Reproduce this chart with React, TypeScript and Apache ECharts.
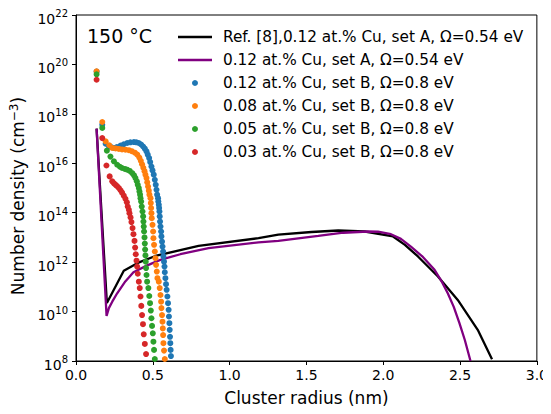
import React, { useEffect, useRef } from "react";
import * as echarts from "echarts";

// Series names (legend)
const names = [
  "Ref. [8],0.12 at.% Cu, set A, Ω=0.54 eV",
  "0.12 at.% Cu, set A, Ω=0.54 eV",
  "0.12 at.% Cu, set B, Ω=0.8 eV",
  "0.08 at.% Cu, set B, Ω=0.8 eV",
  "0.05 at.% Cu, set B, Ω=0.8 eV",
  "0.03 at.% Cu, set B, Ω=0.8 eV",
];

// y values are log10 of number density (cm^-3); axis labels 10^8 ... 10^22
const yTickExponents = [8, 10, 12, 14, 16, 18, 20, 22];

// Ref. [8] (black line): cluster radius (nm) and log10(number density)
const refX = [0.134, 0.201, 0.311, 0.402, 0.517, 0.798, 1.188, 1.317, 1.533, 1.707, 1.88, 2.064, 2.141, 2.226, 2.356, 2.485, 2.615, 2.708];
const refLog = [17.4, 10.35, 11.65, 11.97, 12.25, 12.66, 12.97, 13.11, 13.22, 13.28, 13.24, 13.04, 12.7, 12.23, 11.42, 10.47, 9.26, 8.07];

// 0.12 at.% Cu, set A (purple line)
const setAX = [0.134, 0.199, 0.214, 0.236, 0.268, 0.321, 0.374, 0.46, 0.549, 0.679, 0.863, 1.188, 1.317, 1.577, 1.74, 1.9, 1.966, 2.05, 2.115, 2.18, 2.258, 2.334, 2.382, 2.42, 2.459, 2.496, 2.531, 2.568];
const setALog = [17.4, 9.82, 10.14, 10.4, 10.74, 11.22, 11.59, 11.86, 12.09, 12.32, 12.57, 12.8, 12.86, 13.06, 13.19, 13.24, 13.23, 13.13, 12.94, 12.63, 12.21, 11.69, 11.2, 10.74, 10.19, 9.53, 8.85, 8.0];

// 0.12 at.% Cu, set B (blue dots)
const b12X = [0.134, 0.171, 0.193, 0.214, 0.23, 0.247, 0.266, 0.29, 0.311, 0.333, 0.354, 0.377, 0.393, 0.409, 0.424, 0.437, 0.448, 0.459, 0.467, 0.476, 0.483, 0.491, 0.498, 0.506, 0.513, 0.519, 0.524, 0.528, 0.534, 0.536, 0.539, 0.541, 0.543, 0.545, 0.547, 0.55, 0.554, 0.556, 0.56, 0.563, 0.567, 0.569, 0.573, 0.576, 0.578, 0.582, 0.586, 0.59, 0.595, 0.599, 0.603, 0.605, 0.608, 0.61, 0.612, 0.614, 0.616, 0.618];
const b12Log = [19.71, 17.56, 16.79, 16.69, 16.65, 16.62, 16.66, 16.72, 16.77, 16.82, 16.85, 16.86, 16.85, 16.82, 16.76, 16.68, 16.59, 16.48, 16.35, 16.21, 16.05, 15.87, 15.71, 15.54, 15.33, 15.13, 14.93, 14.73, 14.59, 14.45, 14.32, 14.19, 14.05, 13.85, 13.64, 13.44, 13.24, 13.04, 12.83, 12.63, 12.43, 12.23, 12.02, 11.82, 11.59, 11.35, 11.11, 10.88, 10.61, 10.34, 10.07, 9.8, 9.53, 9.26, 8.98, 8.72, 8.45, 8.2];

// 0.08 at.% Cu, set B (orange dots)
const b08X = [0.134, 0.171, 0.193, 0.217, 0.236, 0.258, 0.279, 0.3, 0.322, 0.344, 0.363, 0.383, 0.399, 0.412, 0.422, 0.43, 0.438, 0.446, 0.452, 0.459, 0.464, 0.469, 0.474, 0.478, 0.485, 0.487, 0.489, 0.491, 0.493, 0.498, 0.502, 0.504, 0.508, 0.513, 0.517, 0.521, 0.526, 0.53, 0.539, 0.545, 0.55, 0.554, 0.556, 0.56, 0.563, 0.565, 0.567, 0.569, 0.573, 0.578];
const b08Log = [19.72, 17.67, 16.89, 16.73, 16.62, 16.6, 16.58, 16.56, 16.55, 16.53, 16.49, 16.43, 16.35, 16.23, 16.1, 15.96, 15.82, 15.68, 15.54, 15.4, 15.23, 15.06, 14.89, 14.73, 14.59, 14.39, 14.19, 13.98, 13.78, 13.51, 13.24, 12.97, 12.7, 12.43, 12.16, 11.89, 11.62, 11.35, 11.21, 10.95, 10.67, 10.4, 10.14, 9.86, 9.59, 9.32, 9.05, 8.72, 8.42, 8.08];

// 0.05 at.% Cu, set B (green dots)
const b05X = [0.134, 0.171, 0.201, 0.224, 0.247, 0.268, 0.286, 0.3, 0.318, 0.333, 0.35, 0.366, 0.378, 0.387, 0.396, 0.402, 0.409, 0.413, 0.417, 0.42, 0.424, 0.428, 0.433, 0.437, 0.439, 0.441, 0.443, 0.446, 0.448, 0.45, 0.452, 0.454, 0.456, 0.459, 0.463, 0.471, 0.477, 0.482, 0.487, 0.491, 0.495, 0.5, 0.504, 0.508, 0.513];
const b05Log = [19.6, 17.43, 16.51, 16.27, 16.08, 15.94, 15.86, 15.81, 15.77, 15.74, 15.69, 15.6, 15.51, 15.4, 15.27, 15.13, 15.0, 14.86, 14.73, 14.59, 14.45, 14.25, 14.05, 13.85, 13.64, 13.44, 13.24, 13.0, 12.75, 12.51, 12.27, 12.02, 11.76, 11.48, 11.21, 10.95, 10.63, 10.34, 10.04, 9.73, 9.42, 9.12, 8.78, 8.45, 8.08];

// 0.03 at.% Cu, set B (red dots)
const b03X = [0.134, 0.171, 0.198, 0.219, 0.236, 0.247, 0.258, 0.268, 0.279, 0.29, 0.3, 0.311, 0.322, 0.331, 0.337, 0.344, 0.348, 0.355, 0.361, 0.368, 0.374, 0.381, 0.385, 0.389, 0.394, 0.398, 0.402, 0.409, 0.415, 0.42, 0.425, 0.43, 0.436, 0.441, 0.448, 0.456];
const b03Log = [19.38, 17.02, 15.91, 15.47, 15.27, 15.19, 15.13, 15.07, 15.0, 14.91, 14.81, 14.69, 14.56, 14.42, 14.25, 14.12, 13.98, 13.81, 13.62, 13.38, 13.13, 12.86, 12.59, 12.32, 12.06, 11.82, 11.53, 11.21, 10.95, 10.61, 10.23, 9.86, 9.49, 9.08, 8.69, 8.28];

const colors = ["#000000", "#800080", "#1f77b4", "#ff7f0e", "#2ca02c", "#d62728"];

const pairs = (xs: number[], ys: number[]) => xs.map((x, i) => [x, ys[i]]);

const FONT = "DejaVu Sans";
const LINE_ICON = "path://M0,0L34,0L34,2.4L0,2.4Z";

export default function App() {
  const ref = useRef<HTMLDivElement>(null);
  useEffect(() => {
    if (!ref.current) return;
    const chart = echarts.init(ref.current, null, { renderer: "svg" });
    const lineSeries = (i: number, xs: number[], ys: number[]) => ({
      name: names[i],
      type: "line",
      data: pairs(xs, ys),
      symbol: "none",
      showSymbol: false,
      lineStyle: { color: colors[i], width: 2.3 },
      itemStyle: { color: colors[i] },
      z: 2,
    });
    const dotSeries = (i: number, xs: number[], ys: number[]) => ({
      name: names[i],
      type: "scatter",
      data: pairs(xs, ys),
      symbol: "circle",
      symbolSize: 6,
      itemStyle: { color: colors[i], opacity: 1 },
      z: 3,
    });
    chart.setOption({
      animation: false,
      textStyle: { fontFamily: FONT },
      graphic: [
        {
          type: "text",
          left: 87,
          top: 26,
          style: { text: "150 °C", font: "19px 'DejaVu Sans'", fill: "#000" },
        },
      ],
      legend: {
        orient: "vertical",
        left: 173,
        top: 24,
        itemWidth: 34,
        itemHeight: 6,
        itemGap: 7,
        data: [
          { name: names[0], icon: LINE_ICON },
          { name: names[1], icon: LINE_ICON },
          { name: names[2], icon: "circle" },
          { name: names[3], icon: "circle" },
          { name: names[4], icon: "circle" },
          { name: names[5], icon: "circle" },
        ],
        textStyle: { fontFamily: FONT, fontSize: 15.3, color: "#000", lineHeight: 16, padding: [0, 0, 0, 6] },
      },
      grid: {
        left: 76,
        right: 12,
        top: 15,
        bottom: 53,
        show: true,
        borderColor: "#000",
        borderWidth: 1,
        backgroundColor: "transparent",
      },
      xAxis: {
        type: "value",
        min: 0,
        max: 3,
        interval: 0.5,
        name: "Cluster radius (nm)",
        nameLocation: "middle",
        nameGap: 28,
        nameTextStyle: { fontFamily: FONT, fontSize: 17, color: "#000" },
        axisLine: { show: true, onZero: false, lineStyle: { color: "#000", width: 1 } },
        axisTick: { show: true, length: 4, lineStyle: { color: "#000" } },
        axisLabel: {
          fontFamily: FONT,
          fontSize: 14,
          color: "#000",
          margin: 7,
          formatter: (v: number) => v.toFixed(1),
        },
        splitLine: { show: false },
      },
      yAxis: {
        type: "value",
        min: 8,
        max: 22,
        interval: 2,
        name: "{n|Number density (cm}{s|−3}{n|)}",
        nameLocation: "middle",
        nameGap: 48,
        nameRotate: 90,
        nameTextStyle: {
          padding: [0, 16, 0, 0],
          rich: {
            n: { fontFamily: FONT, fontSize: 17, color: "#000" },
            s: { fontFamily: FONT, fontSize: 12, color: "#000", padding: [0, 0, 8, 0] },
          },
        },
        axisLine: { show: true, onZero: false, lineStyle: { color: "#000", width: 1 } },
        axisTick: { show: true, length: 4, lineStyle: { color: "#000" } },
        axisLabel: {
          margin: 8,
          formatter: (v: number) => {
            const e = Math.round(v);
            return yTickExponents.includes(e) ? "{b|10}{s|" + e + "}" : "";
          },
          rich: {
            b: { fontFamily: FONT, fontSize: 14, color: "#000", padding: [7, 0, 0, 0] },
            s: { fontFamily: FONT, fontSize: 10, color: "#000", padding: [0, 0, 3, 0] },
          },
        },
        splitLine: { show: false },
      },
      series: [
        lineSeries(0, refX, refLog),
        lineSeries(1, setAX, setALog),
        dotSeries(2, b12X, b12Log),
        dotSeries(3, b08X, b08Log),
        dotSeries(4, b05X, b05Log),
        dotSeries(5, b03X, b03Log),
      ],
    });
    return () => chart.dispose();
  }, []);
  return <div ref={ref} style={{ width: 551, height: 414, margin: -8 }} />;
}
